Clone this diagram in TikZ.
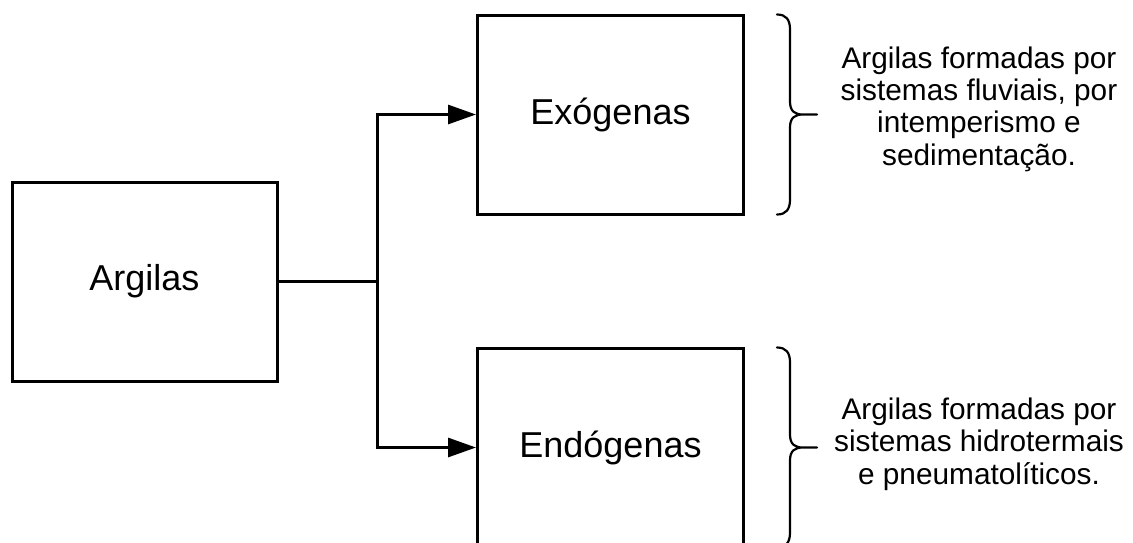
\documentclass[tikz,border=0pt]{standalone}
\usepackage{fontspec}
\setmainfont{Liberation Sans}
\usetikzlibrary{arrows.meta}

\tikzset{
  box/.style={draw=black, line width=3pt, minimum width=266pt, minimum height=199pt,
    inner sep=0pt, font=\fontsize{36}{40}\selectfont},
  conn/.style={draw=black, line width=3pt},
  arrowconn/.style={conn, -{Triangle[length=28pt,width=19pt]}},
  note/.style={align=center, inner sep=0pt, font=\fontsize{29.8}{32.4}\selectfont},
  bracestroke/.style={draw=black, line width=2.2pt, line cap=round, line join=round},
  curly/.pic={
    \draw[bracestroke] (-40,-100) .. controls (-31,-100) and (-27,-95) .. (-27,-85)
      -- (-27,-13) .. controls (-27,-3) and (-22,0) .. (-14,0) -- (0,0)
      (-14,0) .. controls (-22,0) and (-27,3) .. (-27,13)
      -- (-27,85) .. controls (-27,95) and (-31,100) .. (-40,100);
  }
}

\begin{document}
\begin{tikzpicture}[x=1pt, y=-1pt]
  % canvas
  \fill[white] (0,0) rectangle (1133,542);
  \useasboundingbox (0,0) rectangle (1133,542);

  % boxes
  \node[box, minimum width=265pt] (arg) at (144.5,281.5) {Argilas};
  \node[box] (exo) at (610.5,114.5) {Exógenas};
  \node[box] (endo) at (610.5,447.5) {Endógenas};

  % branching connector
  \coordinate (split) at (377,281.5);
  \draw[conn] (arg.east) -- (split);
  \draw[arrowconn] (split) |- (exo.west);
  \draw[arrowconn] (split) |- (endo.west);

  % braces
  \pic at (817,114.5) {curly};
  \pic at (817,447.5) {curly};

  % descriptions
  \node[note] (exotext) at (979,109) {Argilas formadas por\\sistemas fluviais, por\\intemperismo e\\sedimentação.};
  \node[note] (endotext) at (979,444) {Argilas formadas por\\sistemas hidrotermais\\e pneumatolíticos.};
\end{tikzpicture}
\end{document}
